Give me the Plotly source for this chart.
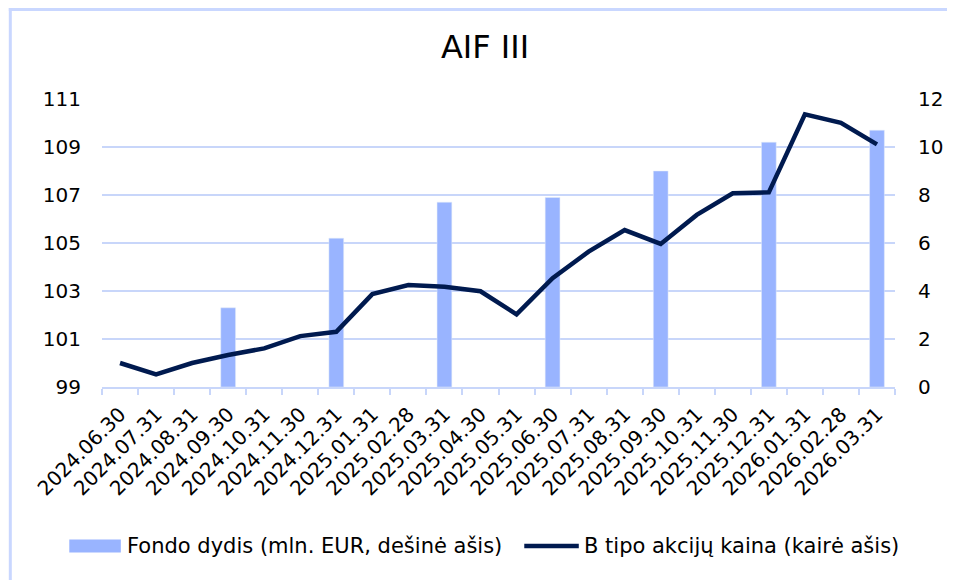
import plotly.graph_objects as go

# ---- data ----
dates = ["2024.06.30", "2024.07.31", "2024.08.31", "2024.09.30", "2024.10.31", "2024.11.30",
         "2024.12.31", "2025.01.31", "2025.02.28", "2025.03.31", "2025.04.30", "2025.05.31",
         "2025.06.30", "2025.07.31", "2025.08.31", "2025.09.30", "2025.10.31", "2025.11.30",
         "2025.12.31", "2026.01.31", "2026.02.28", "2026.03.31"]
fund_size = [None, None, None, 3.3, None, None, 6.2, None, None, 7.7, None, None,
             7.9, None, None, 9.0, None, None, 10.2, None, None, 10.7]
share_price = [100.0, 99.53, 100.0, 100.33, 100.61, 101.12, 101.3, 102.87, 103.25, 103.18,
               102.99, 102.03, 103.53, 104.64, 105.54, 104.96, 106.17, 107.07, 107.11,
               110.36, 110.01, 109.11]
left_ticks = [99, 101, 103, 105, 107, 109, 111]
right_ticks = [0, 2, 4, 6, 8, 10, 12]
title_text = "AIF III"
bar_name = "Fondo dydis (mln. EUR, dešinė ašis)"
line_name = "B tipo akcijų kaina (kairė ašis)"

BAR_C = "#99B4FF"
LINE_C = "#001A4F"
GRID_C = "#C8D6FA"
FRAME_C = "#C9D7FF"
FONT = "DejaVu Sans"

OFF = 8  # browser body margin
W, H = 955 - OFF, 580 - OFF
# plot area in screen pixels: x 102..902, y 99..387
L, T = 102 - OFF, 99 - OFF
R = W - (902 - OFF)
B = H - (387 - OFF)
PW, PH = W - L - R, H - T - B


def px(xs):
    return (xs - OFF - L) / PW


def py(ys):
    return (H - B - (ys - OFF)) / PH


fig = go.Figure()
fig.add_trace(go.Bar(x=dates, y=fund_size, name=bar_name, marker_color=BAR_C,
                     width=0.41, yaxis="y", showlegend=False))
fig.add_trace(go.Scatter(x=dates, y=share_price, name=line_name, mode="lines",
                         line=dict(color=LINE_C, width=4.5), yaxis="y2",
                         showlegend=False))

fig.update_layout(
    width=W, height=H,
    margin=dict(l=L, r=R, t=T, b=B),
    paper_bgcolor="white", plot_bgcolor="white",
    font=dict(family=FONT, size=20, color="#000000"),
    title=dict(text=title_text, x=(485 - OFF) / W, xanchor="center",
               y=1 - (47 - OFF) / H, yanchor="middle",
               font=dict(size=32, color="#000000")),
    xaxis=dict(type="category", tickangle=-45, tickson="boundaries",
               ticks="outside", ticklen=6, tickcolor=GRID_C, tickwidth=1.5,
               showline=True, linecolor=GRID_C, linewidth=1.5,
               showgrid=False, tickfont=dict(size=20), ticklabelstandoff=6,
               range=[-0.5, len(dates) - 0.5]),
    yaxis=dict(side="right", range=[0, 12], tickvals=right_ticks,
               showgrid=True, gridcolor=GRID_C, gridwidth=1.5, zeroline=False,
               showline=False, ticklabelstandoff=22, tickfont=dict(size=20)),
    yaxis2=dict(side="left", overlaying="y", range=[99, 111], tickvals=left_ticks,
                showgrid=False, zeroline=False, showline=False,
                ticklabelstandoff=20, tickfont=dict(size=20)),
    bargap=0.59,
)

# outer chart frame (top and left edges visible)
fig.add_shape(type="line", xref="paper", yref="paper",
              x0=px(8), x1=px(960), y0=py(9.5), y1=py(9.5),
              line=dict(color=FRAME_C, width=3), layer="below")
fig.add_shape(type="line", xref="paper", yref="paper",
              x0=px(9.5), x1=px(9.5), y0=py(8), y1=py(590),
              line=dict(color=FRAME_C, width=3), layer="below")

# custom legend
ly = 546
fig.add_shape(type="rect", xref="paper", yref="paper",
              x0=px(69), x1=px(121), y0=py(552.5), y1=py(539.5),
              line=dict(width=0), fillcolor=BAR_C)
fig.add_annotation(xref="paper", yref="paper", x=px(125), y=py(ly), xanchor="left",
                   yanchor="middle", text=bar_name, showarrow=False,
                   font=dict(size=21, color="#000000"))
fig.add_shape(type="line", xref="paper", yref="paper",
              x0=px(528), x1=px(583), y0=py(ly), y1=py(ly),
              line=dict(color=LINE_C, width=4.5))
fig.add_annotation(xref="paper", yref="paper", x=px(586), y=py(ly), xanchor="left",
                   yanchor="middle", text=line_name, showarrow=False,
                   font=dict(size=21, color="#000000"))

fig.write_html("out.html")
